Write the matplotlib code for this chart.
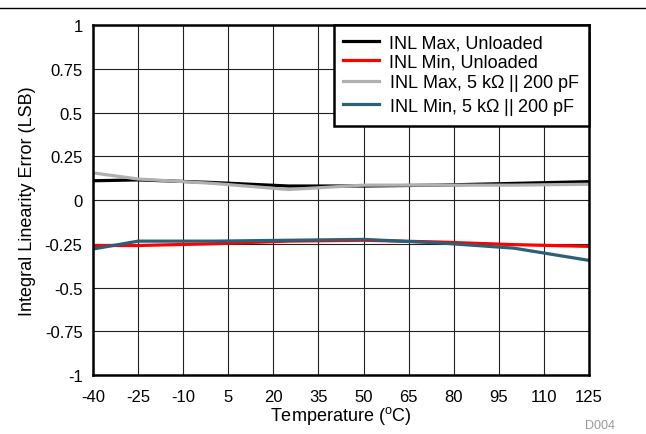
import matplotlib
matplotlib.use("Agg")
import matplotlib.pyplot as plt
import numpy as np

plt.rcParams['font.family'] = ['Liberation Sans', 'DejaVu Sans']
plt.rcParams['mathtext.fontset'] = 'custom'
plt.rcParams['mathtext.rm'] = 'Liberation Sans'
plt.rcParams['axes.unicode_minus'] = False

# data
temps = [-40, -25, 0, 25, 50, 75, 100, 125]
inl_max_unloaded = [0.11, 0.115, 0.10, 0.08, 0.08, 0.085, 0.095, 0.105]
inl_min_unloaded = [-0.26, -0.26, -0.25, -0.235, -0.23, -0.24, -0.255, -0.265]
inl_max_loaded = [0.155, 0.12, 0.095, 0.06, 0.085, 0.085, 0.085, 0.09]
inl_min_loaded = [-0.28, -0.235, -0.235, -0.23, -0.225, -0.245, -0.275, -0.345]

labels = ['INL Max, Unloaded', 'INL Min, Unloaded',
          'INL Max, 5 k$\\Omega$ || 200 pF', 'INL Min, 5 k$\\Omega$ || 200 pF']
colors = ['#000000', '#FF0000', '#B0B0B0', '#2C5F78']
x_ticks = [-40, -25, -10, 5, 20, 35, 50, 65, 80, 95, 110, 125]
y_ticks = [-1, -0.75, -0.5, -0.25, 0, 0.25, 0.5, 0.75, 1]
y_ticklabels = ['-1', '-0.75', '-0.5', '-0.25', '0', '0.25', '0.5', '0.75', '1']

fig = plt.figure(figsize=(6.46, 4.35), dpi=100)
ax = fig.add_axes([0.144, 0.1356, 0.7678, 0.8046])

series = [inl_max_unloaded, inl_min_unloaded, inl_max_loaded, inl_min_loaded]
for ys, lab, c in zip(series, labels, colors):
    ax.plot(temps, ys, color=c, lw=2.3, label=lab)

ax.set_xlim(-40, 125)
ax.set_ylim(-1, 1)
ax.set_xticks(x_ticks)
ax.set_xticklabels([str(t) for t in x_ticks])
ax.set_yticks(y_ticks)
ax.set_yticklabels(y_ticklabels)
ax.tick_params(length=0, labelsize=12)
ax.tick_params(axis='x', pad=10)
ax.tick_params(axis='y', pad=7.5)
ax.grid(True, color='#222222', lw=0.8)
ax.set_axisbelow(True)
for s in ax.spines.values():
    s.set_linewidth(1.8)

ax.set_xlabel('Temperature ($^{\\mathrm{o}}$C)', fontsize=13, labelpad=0)
ax.set_ylabel('Integral Linearity Error (LSB)', fontsize=13, labelpad=6)

leg = ax.legend(loc='upper right', bbox_to_anchor=(1, 1), fancybox=False,
                framealpha=1, edgecolor='black', fontsize=13, handlelength=2.0,
                handletextpad=0.55, borderaxespad=0, labelspacing=0.12,
                borderpad=0.5)
leg.get_frame().set_linewidth(1.8)

fig.add_artist(plt.Line2D([0, 1], [0.979, 0.979], color='black', lw=1,
                          transform=fig.transFigure))
fig.text(0.952, 0.0138, 'D004', color='#999999', fontsize=9, ha='right',
         va='baseline')

fig.savefig('out.png', dpi=100)
